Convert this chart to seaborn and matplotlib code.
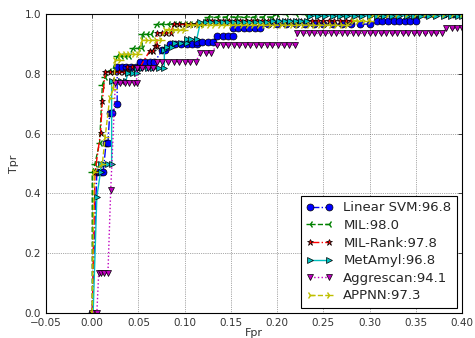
import matplotlib
matplotlib.use("Agg")
import matplotlib.pyplot as plt
import seaborn as sns

# ROC points (fpr, tpr), one list per method
svm_roc = [(0.0, 0.0), (0.005, 0.473), (0.009, 0.473), (0.012, 0.473), (0.015, 0.57), (0.017, 0.57),
           (0.019, 0.67), (0.021, 0.67), (0.027, 0.70), (0.027, 0.824), (0.032, 0.824), (0.037, 0.824),
           (0.042, 0.824), (0.047, 0.824), (0.052, 0.824), (0.052, 0.838), (0.057, 0.838), (0.062, 0.838),
           (0.067, 0.838), (0.076, 0.88), (0.079, 0.88), (0.084, 0.90), (0.090, 0.90), (0.096, 0.90),
           (0.102, 0.90), (0.108, 0.90), (0.113, 0.90), (0.113, 0.907), (0.119, 0.907), (0.125, 0.907),
           (0.131, 0.907), (0.135, 0.925), (0.141, 0.925), (0.147, 0.925), (0.152, 0.925), (0.152, 0.952),
           (0.158, 0.952), (0.164, 0.952), (0.170, 0.952), (0.176, 0.952), (0.182, 0.952), (0.19, 0.966),
           (0.20, 0.966), (0.21, 0.966), (0.22, 0.966), (0.23, 0.966), (0.24, 0.966), (0.25, 0.966),
           (0.26, 0.966), (0.27, 0.966), (0.28, 0.966), (0.29, 0.966), (0.30, 0.966), (0.308, 0.978),
           (0.314, 0.978), (0.320, 0.978), (0.326, 0.978), (0.332, 0.978), (0.338, 0.978), (0.344, 0.978),
           (0.350, 0.978), (0.352, 1.0), (0.36, 1.0), (0.37, 1.0), (0.38, 1.0), (0.39, 1.0), (0.40, 1.0)]

mil_roc = [(0.0, 0.0), (0.0, 0.47), (0.003, 0.50), (0.008, 0.57), (0.011, 0.764), (0.014, 0.788),
           (0.018, 0.81), (0.022, 0.81), (0.027, 0.859), (0.031, 0.859), (0.035, 0.859), (0.040, 0.859),
           (0.044, 0.885), (0.049, 0.885), (0.054, 0.885), (0.054, 0.932), (0.059, 0.932), (0.064, 0.932),
           (0.070, 0.966), (0.076, 0.966), (0.082, 0.966), (0.088, 0.966), (0.094, 0.966), (0.100, 0.966),
           (0.106, 0.966), (0.112, 0.966), (0.118, 0.966), (0.125, 0.99), (0.135, 0.99), (0.145, 0.99),
           (0.155, 0.99), (0.165, 0.99), (0.175, 0.99), (0.185, 0.99), (0.195, 0.99), (0.20, 1.0),
           (0.21, 1.0), (0.22, 1.0), (0.23, 1.0), (0.24, 1.0), (0.25, 1.0), (0.26, 1.0), (0.27, 1.0),
           (0.28, 1.0), (0.29, 1.0), (0.30, 1.0), (0.31, 1.0), (0.32, 1.0), (0.33, 1.0), (0.34, 1.0),
           (0.35, 1.0), (0.36, 1.0), (0.37, 1.0), (0.38, 1.0), (0.39, 1.0), (0.40, 1.0)]

milrank_roc = [(0.0, 0.0), (0.003, 0.47), (0.009, 0.603), (0.011, 0.71), (0.014, 0.805), (0.019, 0.805),
               (0.024, 0.805), (0.029, 0.805), (0.034, 0.805), (0.038, 0.805), (0.038, 0.824), (0.043, 0.824),
               (0.048, 0.824), (0.052, 0.824), (0.062, 0.876), (0.066, 0.876), (0.068, 0.892), (0.070, 0.892),
               (0.070, 0.937), (0.075, 0.937), (0.080, 0.937), (0.085, 0.937), (0.088, 0.965), (0.094, 0.965),
               (0.100, 0.965), (0.106, 0.965), (0.112, 0.965), (0.117, 0.965), (0.124, 0.978), (0.130, 0.978),
               (0.136, 0.978), (0.142, 0.978), (0.148, 0.978), (0.154, 0.978), (0.160, 0.978), (0.166, 0.978),
               (0.172, 0.978), (0.178, 0.978), (0.184, 0.978), (0.190, 0.978), (0.196, 0.978), (0.202, 0.978),
               (0.208, 0.978), (0.214, 0.978), (0.220, 0.978), (0.226, 0.978), (0.232, 0.978), (0.238, 0.978),
               (0.244, 0.978), (0.250, 0.978), (0.256, 0.978), (0.262, 0.978), (0.268, 0.978), (0.274, 0.978),
               (0.280, 0.978), (0.282, 1.0), (0.29, 1.0), (0.30, 1.0), (0.31, 1.0), (0.32, 1.0), (0.33, 1.0),
               (0.34, 1.0), (0.35, 1.0), (0.36, 1.0), (0.37, 1.0), (0.38, 1.0), (0.39, 1.0), (0.40, 1.0)]

metamyl_roc = [(0.001, 0.0), (0.005, 0.389), (0.009, 0.473), (0.009, 0.50), (0.013, 0.50), (0.017, 0.50),
               (0.021, 0.50), (0.021, 0.775), (0.026, 0.775), (0.031, 0.775), (0.036, 0.775), (0.039, 0.803),
               (0.044, 0.803), (0.048, 0.803), (0.048, 0.818), (0.054, 0.818), (0.060, 0.818), (0.066, 0.818),
               (0.072, 0.818), (0.078, 0.818), (0.078, 0.88), (0.081, 0.89), (0.086, 0.89), (0.090, 0.902),
               (0.096, 0.902), (0.102, 0.902), (0.102, 0.915), (0.107, 0.915), (0.113, 0.915), (0.117, 0.972),
               (0.123, 0.972), (0.129, 0.972), (0.135, 0.972), (0.141, 0.972), (0.147, 0.972), (0.153, 0.972),
               (0.159, 0.972), (0.165, 0.972), (0.171, 0.972), (0.177, 0.972), (0.183, 0.972), (0.189, 0.972),
               (0.196, 0.978), (0.202, 0.978), (0.208, 0.978), (0.214, 0.978), (0.220, 0.978), (0.226, 0.978),
               (0.232, 0.978), (0.236, 0.994), (0.244, 0.994), (0.252, 0.994), (0.260, 0.994), (0.268, 0.994),
               (0.276, 0.994), (0.284, 0.994), (0.292, 0.994), (0.300, 0.994), (0.308, 0.994), (0.316, 0.994),
               (0.324, 0.994), (0.332, 0.994), (0.340, 0.994), (0.348, 0.994), (0.356, 0.994), (0.364, 0.994),
               (0.372, 0.994), (0.380, 0.994), (0.388, 0.994), (0.396, 0.994), (0.40, 0.994)]

aggrescan_roc = [(0.0, 0.0), (0.005, 0.0), (0.007, 0.134), (0.010, 0.134), (0.013, 0.134), (0.017, 0.134),
                 (0.020, 0.41), (0.025, 0.768), (0.030, 0.768), (0.035, 0.768), (0.040, 0.768), (0.045, 0.768),
                 (0.048, 0.768), (0.048, 0.818), (0.054, 0.818), (0.060, 0.818), (0.066, 0.818), (0.070, 0.84),
                 (0.076, 0.84), (0.082, 0.84), (0.088, 0.84), (0.094, 0.84), (0.100, 0.84), (0.106, 0.84),
                 (0.112, 0.84), (0.117, 0.87), (0.123, 0.87), (0.129, 0.87), (0.135, 0.896), (0.141, 0.896),
                 (0.147, 0.896), (0.153, 0.896), (0.159, 0.896), (0.165, 0.896), (0.171, 0.896), (0.177, 0.896),
                 (0.183, 0.896), (0.189, 0.896), (0.195, 0.896), (0.201, 0.896), (0.207, 0.896), (0.213, 0.896),
                 (0.219, 0.896), (0.222, 0.935), (0.228, 0.935), (0.234, 0.935), (0.240, 0.935), (0.246, 0.935),
                 (0.252, 0.935), (0.258, 0.935), (0.264, 0.935), (0.270, 0.935), (0.276, 0.935), (0.282, 0.935),
                 (0.288, 0.935), (0.294, 0.935), (0.300, 0.935), (0.306, 0.935), (0.312, 0.935), (0.318, 0.935),
                 (0.324, 0.935), (0.330, 0.935), (0.336, 0.935), (0.342, 0.935), (0.348, 0.935), (0.354, 0.935),
                 (0.360, 0.935), (0.366, 0.935), (0.372, 0.935), (0.378, 0.935), (0.383, 0.952), (0.389, 0.952),
                 (0.395, 0.952), (0.40, 0.952)]

appnn_roc = [(0.0, 0.0), (0.002, 0.47), (0.011, 0.50), (0.014, 0.59), (0.019, 0.72), (0.023, 0.75),
             (0.025, 0.846), (0.030, 0.846), (0.030, 0.865), (0.035, 0.865), (0.040, 0.865), (0.045, 0.865),
             (0.050, 0.865), (0.054, 0.912), (0.059, 0.912), (0.064, 0.912), (0.069, 0.912), (0.074, 0.912),
             (0.079, 0.948), (0.084, 0.948), (0.089, 0.948), (0.094, 0.948), (0.099, 0.948), (0.102, 0.963),
             (0.108, 0.963), (0.114, 0.963), (0.120, 0.963), (0.126, 0.963), (0.132, 0.963), (0.138, 0.963),
             (0.144, 0.963), (0.150, 0.963), (0.156, 0.963), (0.162, 0.963), (0.168, 0.963), (0.174, 0.963),
             (0.180, 0.963), (0.186, 0.963), (0.192, 0.963), (0.198, 0.963), (0.204, 0.963), (0.210, 0.963),
             (0.216, 0.963), (0.222, 0.963), (0.228, 0.963), (0.234, 0.963), (0.240, 0.963), (0.246, 0.963),
             (0.252, 0.963), (0.258, 0.963), (0.264, 0.963), (0.270, 0.963), (0.276, 0.963), (0.282, 0.978),
             (0.288, 0.978), (0.294, 0.978), (0.300, 0.978), (0.304, 1.0), (0.31, 1.0), (0.32, 1.0),
             (0.33, 1.0), (0.34, 1.0), (0.35, 1.0), (0.36, 1.0), (0.37, 1.0), (0.38, 1.0), (0.39, 1.0), (0.40, 1.0)]

labels = ["Linear SVM:96.8", "MIL:98.0", "MIL-Rank:97.8", "MetAmyl:96.8", "Aggrescan:94.1", "APPNN:97.3"]

sns.set_style("whitegrid", {"grid.color": "0.35", "grid.linestyle": ":", "axes.edgecolor": "black",
                            "xtick.direction": "in", "ytick.direction": "in"})
plt.rcParams['font.family'] = ['DejaVu Sans']

fig, ax = plt.subplots(figsize=(4.75, 3.38), dpi=100)
fig.subplots_adjust(left=46 / 475, right=462 / 475, top=1 - 14 / 338, bottom=1 - 313 / 338)

styles = [("b", "o", "-."), ("g", "3", "--"), ("r", "*", "-."),
          ("c", ">", "-"), ("m", "v", ":"), ("y", "4", "--")]
curves = [svm_roc, mil_roc, milrank_roc, metamyl_roc, aggrescan_roc, appnn_roc]

for roc, lab, (col, mk, ls) in zip(curves, labels, styles):
    fpr = [p[0] for p in roc]
    tpr = [p[1] for p in roc]
    tri = mk in ("3", "4")
    sns.lineplot(x=fpr, y=tpr, sort=False, estimator=None, ax=ax, color=col, marker=mk,
                 linestyle=ls, linewidth=1, markersize=5 if not tri else 5.5,
                 markeredgecolor=col if tri else "k", markeredgewidth=1.0 if tri else 0.5, label=lab)

ax.set_xlim(-0.05, 0.40)
ax.set_ylim(0.0, 1.0)
ax.set_xticks([-0.05, 0.0, 0.05, 0.10, 0.15, 0.20, 0.25, 0.30, 0.35, 0.40])
ax.set_yticks([0.0, 0.2, 0.4, 0.6, 0.8, 1.0])
ax.set_xticklabels(["\u22120.05", "0.00", "0.05", "0.10", "0.15", "0.20", "0.25", "0.30", "0.35", "0.40"])
ax.tick_params(labelsize=7.5, colors="black", length=3, width=0.5, top=True, right=True)
ax.tick_params(labelcolor="0.2")
ax.grid(True, linewidth=0.5)
for s in ax.spines.values():
    s.set_linewidth(0.8)
ax.set_xlabel("Fpr", fontsize=8, labelpad=0, color="0.2")
ax.set_ylabel("Tpr", fontsize=8, color="0.2")

leg = ax.legend(loc="lower right", fontsize=9.5, numpoints=2, fancybox=False, framealpha=1,
                edgecolor="black", borderaxespad=0.4, handlelength=2.0, labelspacing=0.35)
leg.get_frame().set_linewidth(0.8)

fig.savefig("out.png", dpi=100)
